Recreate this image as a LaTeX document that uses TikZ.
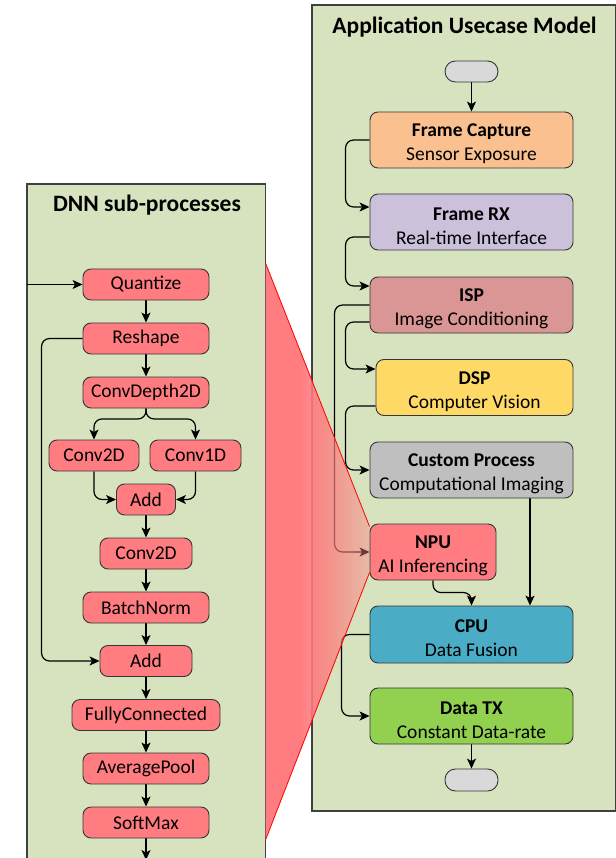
\documentclass[tikz,border=0pt]{standalone}
\usepackage{fontspec}
\setmainfont{Carlito}
\usetikzlibrary{arrows.meta}

\definecolor{panelgreen}{HTML}{D7E3BF}
\definecolor{panelline}{HTML}{404040}
\definecolor{boxline}{HTML}{363636}
\definecolor{fccol}{HTML}{FAC090}
\definecolor{frxcol}{HTML}{CCC1DA}
\definecolor{ispcol}{HTML}{D99694}
\definecolor{dspcol}{HTML}{FFD966}
\definecolor{custcol}{HTML}{BFBFBF}
\definecolor{npured}{HTML}{FF7C80}
\definecolor{cpucol}{HTML}{4BACC6}
\definecolor{dtxcol}{HTML}{92D050}
\definecolor{termgray}{HTML}{D9D9D9}

\pgfdeclarelayer{back}
\pgfdeclarelayer{mid}
\pgfsetlayers{back,mid,main}

% two-line stage label: bold name over a description
\newcommand{\stagelabel}[2]{\rule{0pt}{21pt}\textbf{#1}\\#2}

\begin{document}
\begin{tikzpicture}[x=1pt,y=-1pt,
  panel/.style={draw=panelline, fill=panelgreen, line width=1.1pt},
  title/.style={font=\fontsize{23.5}{28}\selectfont\bfseries, inner sep=0pt},
  stage/.style={draw=boxline, line width=0.9pt, rounded corners=8pt,
    minimum width=203pt, minimum height=56pt, inner sep=0pt, align=center,
    font=\fontsize{19.5}{24}\selectfont},
  term/.style={draw=boxline, fill=termgray, line width=0.9pt, rounded corners=10.5pt,
    minimum width=53pt, minimum height=21pt, inner sep=0pt},
  layer/.style={draw=boxline, fill=npured, line width=0.9pt, rounded corners=8pt,
    minimum height=31pt, inner sep=0pt, font=\fontsize{19.5}{24}\selectfont},
  conn/.style={line width=1.2pt, rounded corners=8pt,
    -{Stealth[length=10pt,width=9pt,inset=2.5pt]}},
]
\useasboundingbox (0,0) rectangle (615,858);

% ---- panels ----
\begin{pgfonlayer}{back}
  \draw[panel] (312,5) rectangle (616,811);
  \draw[panel] (27,184) rectangle (265.5,870);
\end{pgfonlayer}

% ---- application use case model ----
\node[title] (apptitle) at (464.5,27) {Application Usecase Model};
\node[term] (start) at (471.5,71.5) {};
\node[stage, fill=fccol] (fcap) at (471.5,140) {\stagelabel{Frame Capture}{Sensor Exposure}};
\node[stage, fill=frxcol] (frx) at (471.5,222) {\stagelabel{Frame RX}{Real-time Interface}};
\node[stage, fill=ispcol] (isp) at (471.5,305) {\stagelabel{ISP}{Image Conditioning}};
\node[stage, fill=dspcol, minimum width=197pt] (dsp) at (474.5,387.5) {\stagelabel{DSP}{Computer Vision}};
\node[stage, fill=custcol] (cust) at (471.5,470) {\stagelabel{Custom Process}{Computational Imaging}};
\node[stage, fill=npured, minimum width=126pt] (npu) at (433,552) {\stagelabel{NPU}{AI Inferencing}};
\node[stage, fill=cpucol, minimum height=57pt] (cpu) at (471.5,634.5) {\stagelabel{CPU}{Data Fusion}};
\node[stage, fill=dtxcol] (dtx) at (471.5,716) {\stagelabel{Data TX}{Constant Data-rate}};
\node[term, minimum height=22pt] (end) at (471.5,780) {};

% ---- DNN sub-processes ----
\node[title] (dnntitle) at (147,205) {DNN sub-processes};
\node[layer, minimum width=126pt] (quant) at (146,284.5) {Quantize};
\node[layer, minimum width=126pt] (resh) at (146,338.5) {Reshape};
\node[layer, minimum width=126pt] (cdd) at (146,392.5) {ConvDepth2D};
\node[layer, minimum width=90pt] (c2a) at (94,455.5) {Conv2D};
\node[layer, minimum width=91pt] (c1) at (195.5,455.5) {Conv1D};
\node[layer, minimum width=59pt] (add1) at (146,499.5) {Add};
\node[layer, minimum width=92pt] (c2b) at (146,553.5) {Conv2D};
\node[layer, minimum width=126pt] (bn) at (146,607.5) {BatchNorm};
\node[layer, minimum width=92pt] (add2) at (146,661) {Add};
\node[layer, minimum width=148pt] (fcl) at (146,715) {FullyConnected};
\node[layer, minimum width=126pt] (ap) at (146,768.5) {AveragePool};
\node[layer, minimum width=126pt] (sm) at (146,822.5) {SoftMax};
\coordinate (dnnin) at (27,284.5);
\coordinate (dnnout) at (146,860);

% funnel anchors on the left panel edge
\coordinate (ftop) at (265.5,263);
\coordinate (fbot) at (265.5,840);

\begin{pgfonlayer}{mid}
  % pipeline connectors
  \draw[conn] (start.south) -- (fcap.north);
  \draw[conn] (fcap.west) -- ++(-24,0) |- ([yshift=15pt]frx.west);
  \draw[conn] ([yshift=-15pt]frx.west) -- ++(-24,0) |- ([yshift=19pt]isp.west);
  \draw[conn] ([yshift=-17pt]isp.west) -- ++(-24,0) |- ([yshift=18.5pt]dsp.west);
  \draw[conn] ([yshift=-18.5pt]dsp.west) -- ++(-30,0) |- (cust.west);
  \draw[conn] (isp.west) -- ++(-35,0) |- (npu.west);
  \draw[conn] ([xshift=58.5pt]cust.south) -- ([xshift=58.5pt]cpu.north);
  \draw[conn] (npu.south) |- ([yshift=13pt]cpu.north) -- (cpu.north);
  \draw[conn] (cpu.west) -- ++(-28,0) |- (dtx.west);
  \draw[conn] (dtx.south) -- (end.north);

  % DNN connectors
  \draw[conn] (dnnin) -- (quant.west);
  \draw[conn] (quant.south) -- (resh.north);
  \draw[conn] (resh.south) -- (cdd.north);
  \draw[conn] (cdd.south) -- ++(0,10.5) -| (c2a.north);
  \draw[conn] (cdd.south) -- ++(0,10.5) -| (c1.north);
  \draw[conn] (c2a.south) |- (add1.west);
  \draw[conn] (c1.south) |- (add1.east);
  \draw[conn] (add1.south) -- (c2b.north);
  \draw[conn] (c2b.south) -- (bn.north);
  \draw[conn] (bn.south) -- (add2.north);
  \draw[conn] (resh.west) -- ++(-41,0) |- (add2.west);
  \draw[conn] (add2.south) -- (fcl.north);
  \draw[conn] (fcl.south) -- (ap.north);
  \draw[conn] (ap.south) -- (sm.north);
  \draw[conn] (sm.south) -- (dnnout);

  % zoom funnel from the DNN panel to the NPU stage: solid on the left,
  % then nested fills that fade linearly towards the NPU
  \begin{scope}
    \clip (ftop) -- ([yshift=-3pt]npu.north west) -- ([yshift=8pt]npu.south west) -- (fbot) -- cycle;
    \fill[npured] (264,250) rectangle (302,850);
    \fill[npured, fill opacity=0.4] (301,250) rectangle (372,850);
    \foreach \j in {1,...,23} {
      \pgfmathsetmacro\xr{370-3*\j}
      \pgfmathsetmacro\bj{1/(24-\j)}
      \fill[npured, fill opacity=\bj] (300,250) rectangle (\xr,850);
    }
  \end{scope}
  \draw[red, line width=0.8pt]
    (ftop) -- ([yshift=-3pt]npu.north west)
    (fbot) -- ([yshift=8pt]npu.south west);
\end{pgfonlayer}
\end{tikzpicture}
\end{document}
